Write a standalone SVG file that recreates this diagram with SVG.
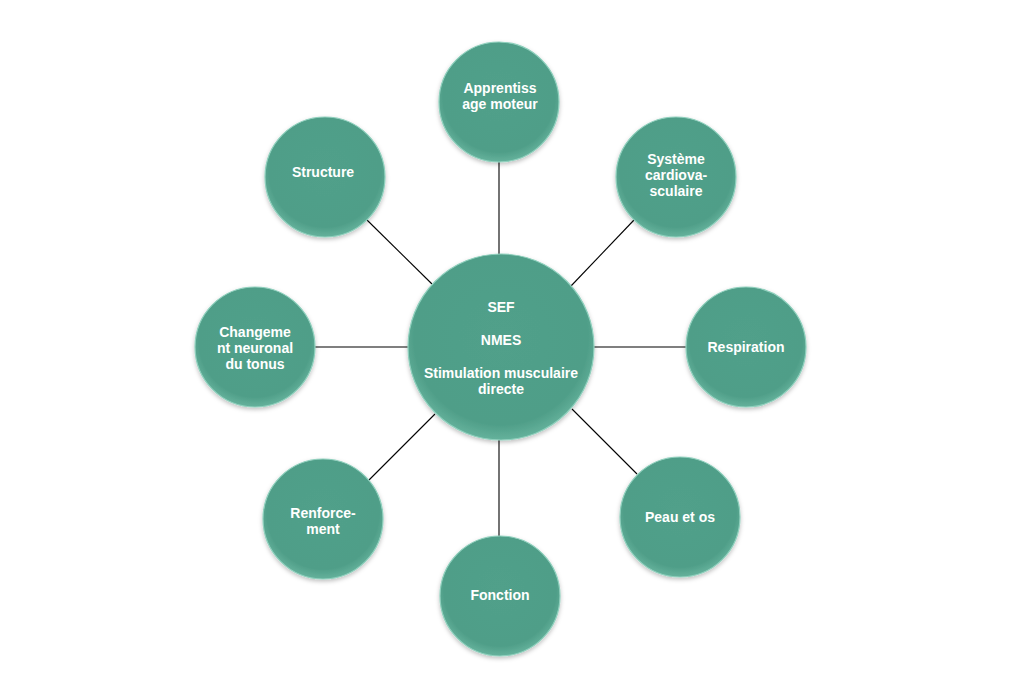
<svg xmlns="http://www.w3.org/2000/svg" width="1030" height="700" viewBox="0 0 1030 700">
<style>
.n{fill:url(#g);stroke:#8fd0bd;stroke-width:1.2;filter:url(#sh)}
.t{font-family:"Liberation Sans",Arial,sans-serif;font-weight:bold;font-size:14px;fill:#fff;text-anchor:middle}
.c{stroke:#000;stroke-width:1.1}
</style>
<defs>
<radialGradient id="g" cx="50%" cy="45%" r="55%">
<stop offset="0" stop-color="#51a08a"/>
<stop offset="0.85" stop-color="#4f9e88"/>
<stop offset="1" stop-color="#65b29c"/>
</radialGradient>
<filter id="sh" x="-20%" y="-20%" width="140%" height="140%">
<feDropShadow dx="0" dy="2" stdDeviation="2" flood-color="#000" flood-opacity="0.25"/>
</filter>
</defs>
<rect width="1030" height="700" fill="#fff"/>
<g id="connectors">
<line class="c" x1="499" y1="162" x2="499" y2="255"/>
<line class="c" x1="367" y1="220" x2="432" y2="284"/>
<line class="c" x1="634" y1="220" x2="571" y2="286"/>
<line class="c" x1="594" y1="347" x2="686" y2="347"/>
<line class="c" x1="572" y1="409" x2="637" y2="474"/>
<line class="c" x1="499" y1="440" x2="499" y2="536"/>
<line class="c" x1="435" y1="414" x2="369" y2="480"/>
<line class="c" x1="315" y1="347" x2="408" y2="347"/>
</g>
<g id="center">
<circle class="n" cx="501" cy="347" r="93"/>
<text class="t" x="501" y="312">SEF</text>
<text class="t" x="501" y="345">NMES</text>
<text class="t" x="501" y="378">Stimulation musculaire</text>
<text class="t" x="501" y="394">directe</text>
</g>
<g id="apprentissage">
<circle class="n" cx="499" cy="102" r="60"/>
<text class="t" x="500" y="93">Apprentiss</text>
<text class="t" x="500" y="109">age moteur</text>
</g>
<g id="structure">
<circle class="n" cx="325" cy="177" r="60"/>
<text class="t" x="323" y="177">Structure</text>
</g>
<g id="systeme">
<circle class="n" cx="676" cy="177" r="60"/>
<text class="t" x="676" y="164">Système</text>
<text class="t" x="676" y="180">cardiova-</text>
<text class="t" x="676" y="196">sculaire</text>
</g>
<g id="respiration">
<circle class="n" cx="746" cy="347" r="60"/>
<text class="t" x="746" y="352">Respiration</text>
</g>
<g id="peau">
<circle class="n" cx="680" cy="517" r="60"/>
<text class="t" x="680" y="522">Peau et os</text>
</g>
<g id="fonction">
<circle class="n" cx="500" cy="596" r="60"/>
<text class="t" x="500" y="600">Fonction</text>
</g>
<g id="renforcement">
<circle class="n" cx="323" cy="519" r="60"/>
<text class="t" x="323" y="518">Renforce-</text>
<text class="t" x="323" y="534">ment</text>
</g>
<g id="changement">
<circle class="n" cx="255" cy="347" r="60"/>
<text class="t" x="255" y="337">Changeme</text>
<text class="t" x="255" y="353">nt neuronal</text>
<text class="t" x="255" y="369">du tonus</text>
</g>
</svg>
